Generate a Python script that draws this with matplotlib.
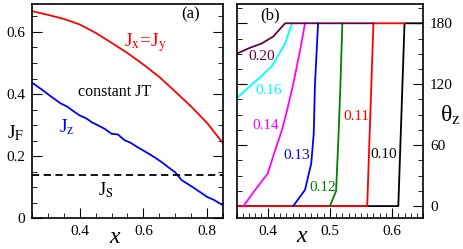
import numpy as np
import matplotlib.pyplot as plt
from matplotlib.ticker import MultipleLocator

plt.rcParams['font.family'] = ['Liberation Serif', 'DejaVu Serif']
plt.rcParams['mathtext.fontset'] = 'stix'

# panel (a): exchange couplings vs x
x_a = [0.25, 0.30, 0.35, 0.40, 0.45, 0.50, 0.55, 0.60, 0.65, 0.70, 0.75, 0.80, 0.85]
j_xy = [0.667, 0.655, 0.642, 0.624, 0.597, 0.565, 0.532, 0.495, 0.455, 0.408, 0.360, 0.307, 0.242]
x_z = [0.25, 0.28, 0.31, 0.34, 0.36, 0.38, 0.40, 0.42, 0.44, 0.46, 0.48, 0.50, 0.52,
       0.54, 0.56, 0.58, 0.60, 0.62, 0.64, 0.66, 0.68, 0.70, 0.72, 0.74, 0.76, 0.78,
       0.80, 0.82, 0.84, 0.85]
j_z = [0.437, 0.415, 0.392, 0.370, 0.360, 0.345, 0.331, 0.322, 0.308, 0.298, 0.287, 0.272, 0.270,
       0.252, 0.243, 0.230, 0.218, 0.206, 0.193, 0.179, 0.163, 0.148, 0.123, 0.110, 0.097, 0.083,
       0.069, 0.060, 0.048, 0.042]
j_s = 0.14

# panel (b): theta_z vs x for several J_S values
curves_b = [
    ('0.10', 'black',   [0.35, 0.61, 0.62, 0.65], [0, 0, 180, 180]),
    ('0.11', 'red',     [0.35, 0.56, 0.57, 0.62], [0, 0, 180, 180]),
    ('0.12', 'green',   [0.50, 0.51, 0.514, 0.517, 0.52], [0, 15, 71, 120, 180]),
    ('0.13', 'blue',    [0.441, 0.460, 0.470, 0.474, 0.476, 0.481], [0, 16, 42, 71, 120, 180]),
    ('0.14', 'magenta', [0.361, 0.380, 0.400, 0.412, 0.423, 0.431, 0.441, 0.452, 0.460],
     [0, 16, 32, 55, 75, 94, 120, 153, 180]),
    ('0.16', 'cyan',    [0.35, 0.366, 0.388, 0.407, 0.428, 0.439], [106, 115, 127, 138, 160, 180]),
    ('0.20', '#650045', [0.35, 0.372, 0.390, 0.409, 0.428, 0.57], [150, 156, 160, 167, 180, 180]),
]
label_pos = {'0.10': (0.587, 51), '0.11': (0.543, 88), '0.12': (0.489, 18), '0.13': (0.446, 50),
             '0.14': (0.396, 79), '0.16': (0.401, 114), '0.20': (0.390, 147)}

fig = plt.figure(figsize=(4.63, 2.49), dpi=100)
ax1 = fig.add_axes([0.0691, 0.1233, 0.4125, 0.8607])
ax2 = fig.add_axes([0.511, 0.1233, 0.403, 0.8607])

fs = 11

# panel (a)
ax1.plot(x_a, j_xy, color='red', lw=1.3)
ax1.plot(x_z, j_z, color='blue', lw=1.3)
ax1.axhline(j_s, color='black', lw=1.3, ls=(0, (4, 2.5)))
ax1.set_xlim(0.25, 0.85)
ax1.set_ylim(0, 0.69)
ax1.xaxis.set_major_locator(MultipleLocator(0.2))
ax1.xaxis.set_minor_locator(MultipleLocator(0.05))
ax1.yaxis.set_major_locator(MultipleLocator(0.2))
ax1.yaxis.set_minor_locator(MultipleLocator(0.05))
ax1.set_yticks([0, 0.2, 0.4, 0.6], ['0', '0.2', '0.4', '0.6'])
ax1.tick_params(which='both', direction='in', top=False, right=True, labelsize=fs)
ax1.tick_params(which='major', length=7, pad=5)
ax1.tick_params(which='minor', length=3.5)
ax1.text(0.748, 0.656, '(a)', fontsize=fs + 1, ha='center', va='center')
ax1.text(0.607, 0.565, r'J$_{\rm x}$=J$_{\rm y}$', color='red', fontsize=fs + 3, ha='center', va='center')
ax1.text(0.508, 0.408, 'constant JT', fontsize=fs + 0.5, ha='center', va='center')
ax1.text(0.358, 0.295, r'J$_{\rm z}$', color='blue', fontsize=fs + 3, ha='center', va='center')
ax1.text(0.482, 0.091, r'J$_{\rm S}$', fontsize=fs + 2, ha='center', va='center')
fig.text(0.033, 0.465, r'J$_{\rm F}$', fontsize=fs + 3, ha='center', va='center')
fig.text(0.248, 0.045, 'x', fontsize=fs + 6, style='italic', ha='center', va='center')

# panel (b)
for lab, col, xs, ys in curves_b:
    ax2.plot(xs, ys, color=col, lw=1.3)
    lx, ly = label_pos[lab]
    ax2.text(lx, ly, lab, color=col, fontsize=fs, ha='center', va='center')
ax2.set_xlim(0.35, 0.65)
ax2.set_ylim(-12, 199)
ax2.xaxis.set_major_locator(MultipleLocator(0.1))
ax2.xaxis.set_minor_locator(MultipleLocator(0.01))
ax2.yaxis.set_major_locator(MultipleLocator(60))
ax2.yaxis.set_minor_locator(MultipleLocator(15))
ax2.set_xticks([0.4, 0.5, 0.6])
ax2.tick_params(which='both', direction='in', top=False, left=True, right=True,
                labelleft=False, labelright=True, labelsize=fs)
ax2.tick_params(which='major', length=7, pad=5)
ax2.tick_params(which='minor', length=3.5)
ax2.text(0.404, 188, '(b)', fontsize=fs + 1, ha='center', va='center')
fig.text(0.972, 0.538, r'θ$_{\rm z}$', fontsize=fs + 6, ha='center', va='center')
fig.text(0.652, 0.05, 'x', fontsize=fs + 6, style='italic', ha='center', va='center')

for ax in (ax1, ax2):
    for sp in ax.spines.values():
        sp.set_linewidth(1.2)

fig.savefig('out.png', dpi=100)
